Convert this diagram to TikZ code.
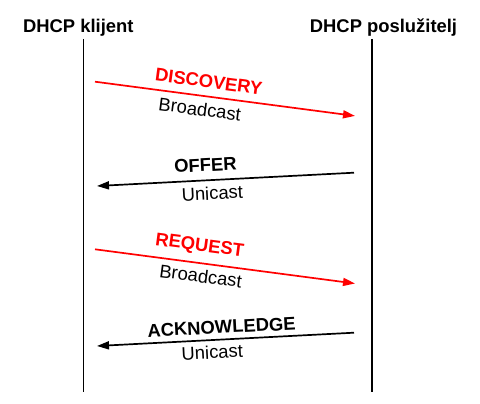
\documentclass[tikz,border=0pt]{standalone}
\usepackage{fontspec}
\setmainfont{Liberation Sans}
\usetikzlibrary{arrows.meta}
\definecolor{msgred}{RGB}{255,0,0}
\tikzset{
  lifeline/.style={line width=1.8pt, black},
  msg/.style={line width=1.7pt, -{Triangle[length=12pt,width=8pt]}},
  head/.style={font=\fontsize{18.4}{21}\selectfont\bfseries, anchor=base, inner sep=0pt},
  lbl/.style={font=\fontsize{18.4}{21}\selectfont\bfseries, inner sep=0pt, sloped},
  sub/.style={font=\fontsize{18.4}{21}\selectfont, inner sep=0pt, sloped}
}
\begin{document}
\begin{tikzpicture}[x=1pt,y=-1pt]
\useasboundingbox (0,0) rectangle (480,404);
% headers
\node[head] (hc) at (78.3,32.7) {DHCP klijent};
\node[head] (hs) at (383.5,32.7) {DHCP poslužitelj};
% lifelines
\coordinate (ct) at (83.5,39);
\coordinate (cb) at (83.5,392);
\coordinate (st) at (372.3,39);
\coordinate (sb) at (372.3,392);
\draw[lifeline] (ct) -- (cb);
\draw[lifeline] (st) -- (sb);
% message endpoints
\coordinate (d1) at (95,81.7);   \coordinate (d2) at (355,115.9);
\coordinate (o1) at (354,172.7); \coordinate (o2) at (97,186);
\coordinate (r1) at (95,249.3);  \coordinate (r2) at (355,283.5);
\coordinate (a1) at (354,332.7); \coordinate (a2) at (97,346);
% DISCOVERY
\draw[msg, msgred] (d1) -- (d2)
  node[lbl, pos=0.43, above=7.5pt, text=msgred] (ldisc) {DISCOVERY}
  node[sub, pos=0.41, below=6pt, text=black] (lbc1) {Broadcast};
% OFFER
\draw[msg] (o1) -- (o2)
  node[lbl, pos=0.575, above=8pt] (loffer) {OFFER}
  node[sub, pos=0.554, below=5.5pt] (luc1) {Unicast};
% REQUEST
\draw[msg, msgred] (r1) -- (r2)
  node[lbl, pos=0.394, above=7.5pt, text=msgred] (lreq) {REQUEST}
  node[sub, pos=0.413, below=5pt, text=black] (lbc2) {Broadcast};
% ACKNOWLEDGE
\draw[msg] (a1) -- (a2)
  node[lbl, pos=0.513, above=5pt] (lack) {ACKNOWLEDGE}
  node[sub, pos=0.554, below=4.5pt] (luc2) {Unicast};
\end{tikzpicture}
\end{document}
